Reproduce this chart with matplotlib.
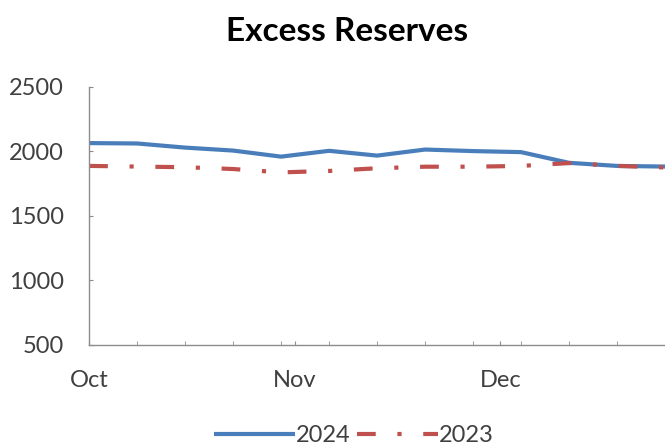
import datetime as dt

import matplotlib
matplotlib.use("Agg")
import matplotlib.pyplot as plt

# weekly readings, Wednesday Oct 2 through Wednesday Dec 25
weeks = [dt.date(2024, 10, 2) + dt.timedelta(days=7 * i) for i in range(13)]
reserves_2024 = [2065, 2062, 2030, 2007, 1960, 2005, 1968, 2015, 2003, 1995, 1912, 1888, 1883]
reserves_2023 = [1888, 1883, 1878, 1864, 1838, 1849, 1870, 1882, 1882, 1888, 1910, 1888, 1876]

month_ticks = [dt.date(2024, 10, 2), dt.date(2024, 11, 1), dt.date(2024, 12, 1)]
month_labels = ["Oct", "Nov", "Dec"]

plt.rcParams["font.family"] = ["Lato", "DejaVu Sans"]

fig = plt.figure(figsize=(6.65, 4.46), dpi=100)
ax = fig.add_axes([0.134, 0.2265, 0.866, 0.5785])

blue = "#4a7ebb"
red = "#c0504d"

ax.plot(weeks, reserves_2024, color=blue, lw=3.0, label="2024",
        solid_joinstyle="round", solid_capstyle="butt")
ax.plot(weeks, reserves_2023, color=red, lw=3.0, label="2023",
        dashes=(4.5, 5.2, 1.0, 5.2), dash_capstyle="butt")

ax.set_xlim(weeks[0], weeks[-1])
ax.set_ylim(500, 2500)
ax.set_yticks([500, 1000, 1500, 2000, 2500])

ax.set_xticks(month_ticks)
ax.set_xticklabels(month_labels)
ax.set_xticks(weeks, minor=True)

for s in ["top", "right"]:
    ax.spines[s].set_visible(False)
for s in ["left", "bottom"]:
    ax.spines[s].set_color("#8c8c8c")
    ax.spines[s].set_linewidth(1.0)

ax.tick_params(axis="both", which="both", direction="in", color="#8c8c8c",
               labelcolor="#404040", labelsize=17, length=3)
ax.tick_params(axis="y", pad=18)
ax.tick_params(axis="x", pad=18)

fig.text(0.522, 0.93, "Excess Reserves", fontsize=24, fontweight="bold",
         color="black", ha="center", va="center")

leg = ax.legend(loc="center", bbox_to_anchor=(0.46, -0.35), ncol=2, frameon=False,
                fontsize=17, handlelength=3.4, handletextpad=0.05, columnspacing=0.3)
for t in leg.get_texts():
    t.set_color("#404040")

fig.savefig("out.png", dpi=100)
